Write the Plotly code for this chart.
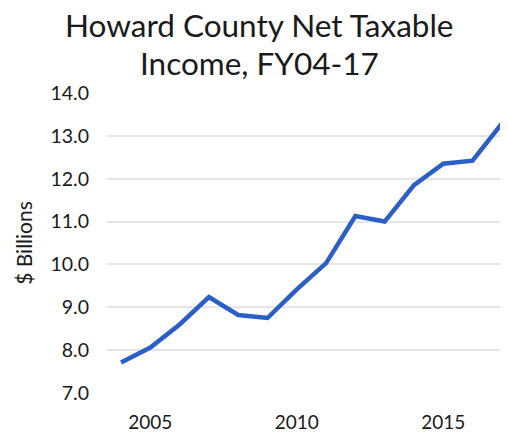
import plotly.graph_objects as go

years = [2004, 2005, 2006, 2007, 2008, 2009, 2010, 2011, 2012, 2013, 2014, 2015, 2016, 2017]
income_billions = [7.71, 8.06, 8.60, 9.24, 8.82, 8.75, 9.42, 10.03, 11.13, 11.00, 11.85, 12.35, 12.42, 13.29]
y_ticks = [7, 8, 9, 10, 11, 12, 13, 14]
y_tick_labels = ["7.0", "8.0", "9.0", "10.0", "11.0", "12.0", "13.0", "14.0"]
x_ticks = [2005, 2010, 2015]
title_lines = ["Howard County Net Taxable", "Income, FY04-17"]

FONT = "Lato, Open Sans, sans-serif"
# page body has an 8px margin, so the figure is drawn 8px smaller
W, H = 500, 424
L, R, T, B = 99, 0, 85, 39
plot_h = H - T - B
plot_w = W - L - R
title_cx = 251  # title centre, figure px

fig = go.Figure()
fig.add_trace(go.Scatter(
    x=years, y=income_billions, mode="lines",
    line=dict(color="#2B5FC6", width=4.5),
    showlegend=False, hoverinfo="x+y",
))

# title lines placed as annotations (centre y in figure px)
for txt, cy in zip(title_lines, [17, 55]):
    fig.add_annotation(
        text=txt, xref="paper", yref="paper",
        x=(title_cx - L) / plot_w, y=1 + (T - cy) / plot_h,
        xanchor="center", yanchor="middle",
        showarrow=False, font=dict(family=FONT, size=31.5, color="#1a1a1a"),
    )

fig.update_layout(
    width=W, height=H,
    paper_bgcolor="white", plot_bgcolor="white",
    margin=dict(l=L, r=R, t=T, b=B),
    font=dict(family=FONT, color="#1a1a1a"),
    xaxis=dict(
        range=[2003.52, 2017.21],
        tickvals=x_ticks, ticktext=[str(v) for v in x_ticks],
        showgrid=False, zeroline=False, showline=False,
        tickfont=dict(size=19), ticks="", ticklabelstandoff=16,
    ),
    yaxis=dict(
        range=[7, 14],
        tickvals=y_ticks, ticktext=y_tick_labels,
        showgrid=True, gridcolor="#E6E6E6", gridwidth=1.5,
        zeroline=False, showline=False,
        tickfont=dict(size=19.5), ticks="", ticklabelstandoff=17,
        title=dict(text="$ Billions", font=dict(size=21), standoff=12),
    ),
)

fig.write_html("out.html")
